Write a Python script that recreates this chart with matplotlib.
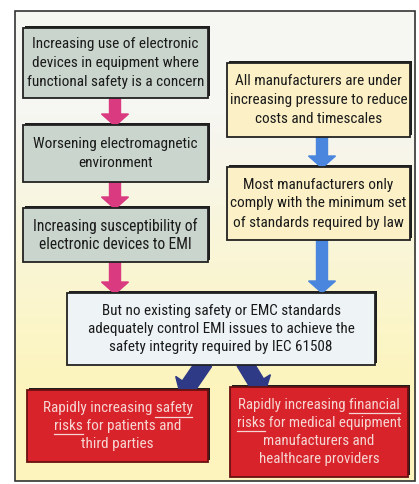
import numpy as np
import matplotlib.pyplot as plt
from matplotlib.patches import Rectangle, FancyArrow
from matplotlib import font_manager

# box texts ("|...|" marks underlined words)
left_chain = [["Increasing use of electronic", "devices in equipment where", "functional safety is a concern"],
              ["Worsening electromagnetic", "environment"],
              ["Increasing susceptibility of", "electronic devices to EMI"]]
right_chain = [["All manufacturers are under", "increasing pressure to reduce", "costs and timescales"],
               ["Most manufacturers only", "comply with the minimum set", "of standards required by law"]]
centre_text = ["But no existing safety or EMC standards",
               "adequately control EMI issues to achieve the",
               "safety integrity required by IEC 61508"]
risk_lines = [["Rapidly increasing |safety|", "|risks| for patients and", "third parties"],
              ["Rapidly increasing |financial|", "|risks| for medical equipment", "manufacturers and", "healthcare providers"]]

names = set(f.name for f in font_manager.fontManager.ttflist)
fam = "DejaVu Sans"
for cand in ["Liberation Sans Narrow", "Arial Narrow", "Roboto Condensed", "Archivo Narrow",
             "PT Sans Narrow", "Open Sans Condensed", "Encode Sans Condensed"]:
    if cand in names:
        fam = cand
        break

W, H = 419, 484
fig = plt.figure(figsize=(W / 100, H / 100), dpi=100)
ax = fig.add_axes([0, 0, 1, 1])
ax.set_xlim(0, W)
ax.set_ylim(H, 0)
ax.axis("off")
fig.canvas.draw()
rend = fig.canvas.get_renderer()

# background: frame with light grey -> pale yellow gradient
grad = np.linspace(0, 1, 256).reshape(-1, 1)
top = np.array([0.965, 0.965, 0.955])
bot = np.array([0.99, 0.96, 0.74])
t = np.clip((grad - 0.2) / 0.6, 0, 1)
img = top + (bot - top) * t[..., None]
ax.imshow(img, extent=(15, 415, 481, 11), aspect="auto", zorder=0)
ax.add_patch(Rectangle((15, 11), 400, 470, fill=False, ec="#333333", lw=1.2, zorder=1))


def box(x0, y0, x1, y1, fc, ec="#222222"):
    ax.add_patch(Rectangle((x0 + 2, y0 - 2), x1 - x0, y1 - y0, fc="#1e1e1e", ec="none", zorder=2))
    ax.add_patch(Rectangle((x0, y0), x1 - x0, y1 - y0, fc=fc, ec=ec, lw=1.3, zorder=3))


def down_arrow(x, y0, y1, color):
    ax.add_patch(FancyArrow(x, y0, 0, y1 - y0, width=11, head_width=27, head_length=12,
                            length_includes_head=True, color=color, zorder=2.5))


def width_px(s, size):
    tmp = ax.text(0, 0, s, fontsize=size, family=fam)
    w = tmp.get_window_extent(rend).width if s else 0
    tmp.remove()
    return w


def draw_lines(cx, cy, lines, step, target, color):
    plain = [ln.replace("|", "") for ln in lines]
    widest = max(plain, key=lambda s: width_px(s, 10))
    size = 10 * target / width_px(widest, 10)
    ys = cy + (np.arange(len(lines)) - (len(lines) - 1) / 2) * step
    for line, full, yy in zip(lines, plain, ys):
        ax.text(cx, yy, full, ha="center", va="center", fontsize=size, family=fam,
                color=color, zorder=4)
        left = cx - width_px(full, size) / 2
        parts = line.split("|")
        pos = 0
        for k, p in enumerate(parts):
            if k % 2 == 1 and p:
                w0 = width_px(full[:pos], size)
                w1 = width_px(full[:pos + len(p)], size)
                ax.plot([left + w0, left + w1], [yy + size * 0.75, yy + size * 0.75],
                        color=color, lw=0.9, zorder=4)
            pos += len(p)


dark = "#1a1a1a"
# left chain
left_boxes = [(23, 28, 208, 98), (23, 125, 208, 182), (23, 208, 208, 262)]
for (x0, y0, x1, y1), s in zip(left_boxes, left_chain):
    box(x0, y0, x1, y1, "#c9d5cd")
    draw_lines((x0 + x1) / 2, (y0 + y1) / 2, s, 19, 176 if len(s) == 3 else 164, dark)
pink = "#d93a80"
down_arrow(115, 98, 126, pink)
down_arrow(115, 182, 209, pink)
down_arrow(115, 262, 294, pink)

# right chain
right_boxes = [(227, 63, 410, 137), (227, 167, 410, 240)]
for (x0, y0, x1, y1), s in zip(right_boxes, right_chain):
    box(x0, y0, x1, y1, "#fbf0c6")
    draw_lines((x0 + x1) / 2, (y0 + y1) / 2, s, 19, 176, dark)
blue = "#4a86de"
down_arrow(322, 137, 168, blue)
down_arrow(322, 240, 293, blue)

# centre box
box(67, 293, 375, 365, "#eef3f6")
draw_lines(221, 329, centre_text, 18.5, 265, dark)

# diagonal arrows to risk boxes
navy = "#2e3a86"
ax.add_patch(FancyArrow(205, 362, -24, 35, width=16, head_width=32, head_length=14,
                        length_includes_head=True, color=navy, zorder=2.6))
ax.add_patch(FancyArrow(244, 362, 20, 33, width=16, head_width=32, head_length=14,
                        length_includes_head=True, color=navy, zorder=2.6))

# risk boxes
risk_boxes = [(27, 390, 208, 462), (230, 387, 408, 477)]
targets = [150, 162]
txt_col = "#f6d6d2"
for (x0, y0, x1, y1), lines, tw in zip(risk_boxes, risk_lines, targets):
    box(x0, y0, x1, y1, "#d8232b", ec="#6a1010")
    draw_lines((x0 + x1) / 2, (y0 + y1) / 2, lines, 17.7, tw, txt_col)

fig.savefig("out.png", dpi=100)
